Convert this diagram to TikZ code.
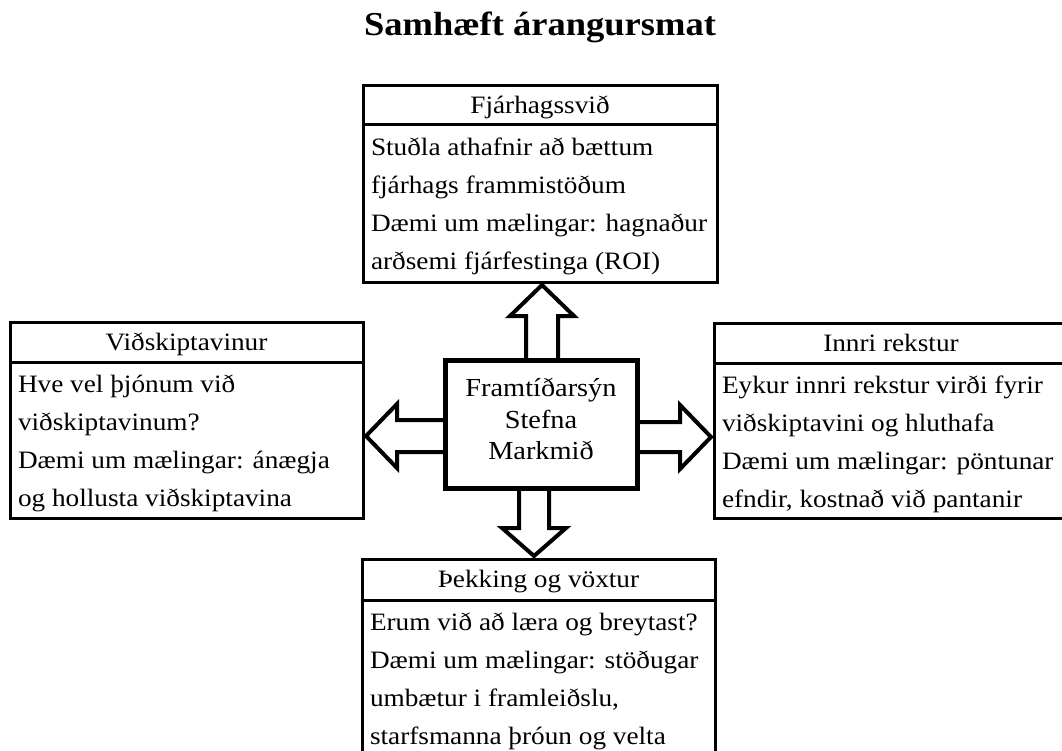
\documentclass[tikz,border=0pt]{standalone}
\usepackage{fontspec}
\setmainfont{Liberation Serif}[FakeStretch=1.09]
\usetikzlibrary{calc,backgrounds}
\newcommand\bodyfs{\fontsize{25}{38.3}\selectfont}
\newcommand\hdrfs{\fontsize{25}{30}\selectfont}
\newcommand\ctrfs{\fontsize{26}{31.5}\selectfont}
\newcommand\ttlfs{\fontsize{33.5}{40}\selectfont\bfseries}
\begin{document}
\begin{tikzpicture}[x=1pt,y=-1pt,
  every node/.style={outer sep=0pt},
  hdr/.style={draw, line width=3pt, inner sep=0pt, minimum height=40pt,
    text height=22pt, text depth=6pt, font=\hdrfs, anchor=north west},
  bodybox/.style={draw, line width=3pt, inner sep=0pt, anchor=north west},
  bodytxt/.style={align=left, font=\bodyfs, inner xsep=8pt, inner ysep=3.2pt,
    anchor=north west},
  blk/.style={draw, line width=4pt, fill=white, line join=miter},
  ctr/.style={draw, line width=5pt, fill=white, minimum width=192pt,
    minimum height=128pt, align=center, font=\ctrfs, inner sep=0pt},
  ttl/.style={font=\ttlfs, anchor=base}]
\useasboundingbox (0,0) rectangle (1062,751);
\clip (0,0) rectangle (1062,751);

\node[ttl] (title) at (540,36) {Samhæft árangursmat};

% top box
\node[hdr, minimum width=354pt, minimum height=39pt] (finH) at (363,86) {Fjárhagssvið};
\node[bodybox, minimum width=354pt, minimum height=157pt] (fin) at (finH.south west) {};
\node[bodytxt] (finT) at (fin.north west) {\strut Stuðla athafnir að bættum\\fjárhags frammistöðum\\Dæmi um mælingar: hagnaður\\arðsemi fjárfestinga (ROI)};

% left box
\node[hdr, minimum width=353pt] (custH) at (10,322) {Viðskiptavinur};
\node[bodybox, minimum width=353pt, minimum height=156pt] (cust) at (custH.south west) {};
\node[bodytxt] (custT) at (cust.north west) {\strut Hve vel þjónum við\\viðskiptavinum?\\Dæmi um mælingar: ánægja\\og hollusta viðskiptavina};

% right box
\node[hdr, minimum width=354pt] (intH) at (714,323) {Innri rekstur};
\node[bodybox, minimum width=354pt, minimum height=155pt] (int) at (intH.south west) {};
\node[bodytxt] (intT) at (int.north west) {\strut Eykur innri rekstur virði fyrir\\viðskiptavini og hluthafa\\Dæmi um mælingar: pöntunar\\efndir, kostnað við pantanir};

% bottom box
\node[hdr, minimum width=353pt, minimum height=41pt] (knH) at (362,559) {Þekking og vöxtur};
\node[bodybox, minimum width=353pt, minimum height=200pt] (kn) at (knH.south west) {};
\node[bodytxt] (knT) at (kn.north west) {\strut Erum við að læra og breytast?\\Dæmi um mælingar: stöðugar\\umbætur i framleiðslu,\\starfsmanna þróun og velta};

% center box
\node[ctr] (c) at (541,424) {Framtíðarsýn\\Stefna\\Markmið\strut};

\begin{scope}[on background layer]
% up arrow
\coordinate (uB) at ($(c.north)+(1,8)$);
\coordinate (uT) at ($(uB |- fin.south)+(0,3)$);
\draw[blk] ($(uB)+(-16,0)$) -- ($(uT)+(-16,31)$) -- ($(uT)+(-32,31)$) -- (uT)
  -- ($(uT)+(32,31)$) -- ($(uT)+(16,31)$) -- ($(uB)+(16,0)$) -- cycle;
% left arrow
\coordinate (lB) at ($(c.west)+(8,12)$);
\coordinate (lT) at ($(lB -| cust.east)+(3,0)$);
\draw[blk] ($(lB)+(0,-16)$) -- ($(lT)+(31,-16)$) -- ($(lT)+(31,-32)$) -- (lT)
  -- ($(lT)+(31,32)$) -- ($(lT)+(31,16)$) -- ($(lB)+(0,16)$) -- cycle;
% right arrow
\coordinate (rB) at ($(c.east)+(-8,13)$);
\coordinate (rT) at ($(rB -| int.west)+(-3,0)$);
\draw[blk] ($(rB)+(0,-15)$) -- ($(rT)+(-31,-15)$) -- ($(rT)+(-31,-32)$) -- (rT)
  -- ($(rT)+(-31,32)$) -- ($(rT)+(-31,15)$) -- ($(rB)+(0,15)$) -- cycle;
% down arrow
\coordinate (dB) at ($(c.south)+(-7,-8)$);
\coordinate (dT) at ($(dB |- knH.north)+(0,-3)$);
\draw[blk] ($(dB)+(-15,0)$) -- ($(dT)+(-15,-28)$) -- ($(dT)+(-32,-28)$) -- (dT)
  -- ($(dT)+(32,-28)$) -- ($(dT)+(15,-28)$) -- ($(dB)+(15,0)$) -- cycle;
\end{scope}
\end{tikzpicture}
\end{document}
